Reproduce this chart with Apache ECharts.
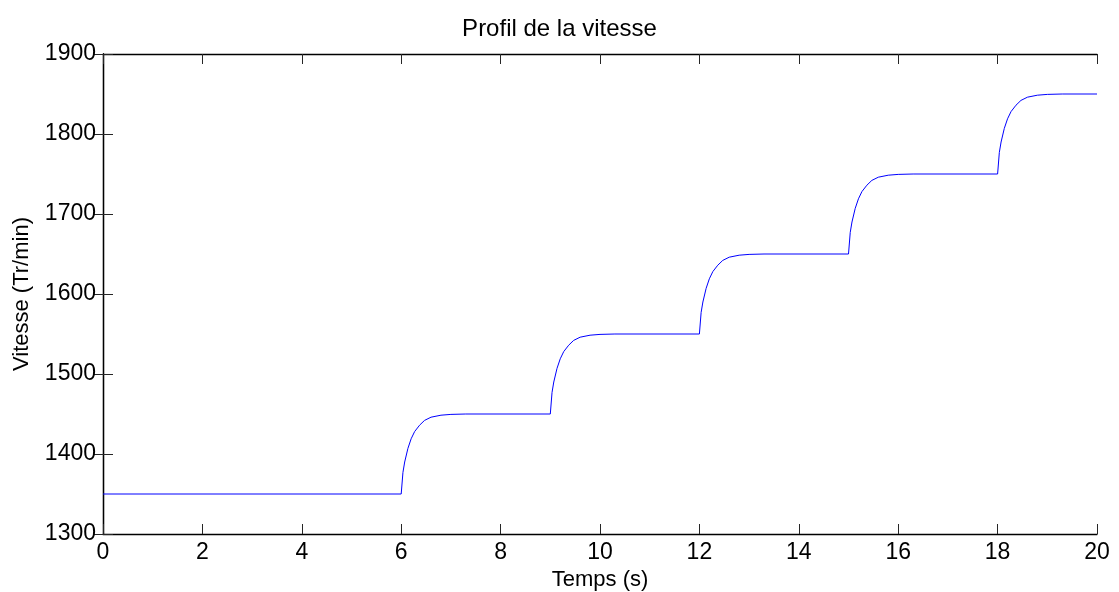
<!DOCTYPE html>
<html>
<head>
<meta charset="utf-8">
<title>Profil de la vitesse</title>
<script src="https://cdn.jsdelivr.net/npm/echarts@6/dist/echarts.min.js"></script>
<style>
  html, body { margin: 0; padding: 0; background: #fff; }
  #chart { width: 1119px; height: 592px; }
</style>
</head>
<body>
<div id="chart"></div>
<script>
// Speed profile: staircase of set-points, each step settling in about one second
const timeS = [
  0,
  6, 6.035, 6.07, 6.135, 6.2, 6.27, 6.37, 6.47, 6.6, 6.8, 7.0, 7.3,
  9, 9.035, 9.07, 9.135, 9.2, 9.27, 9.37, 9.47, 9.6, 9.8, 10.0, 10.3,
  12, 12.035, 12.07, 12.135, 12.2, 12.27, 12.37, 12.47, 12.6, 12.8, 13.0, 13.3,
  15, 15.035, 15.07, 15.135, 15.2, 15.27, 15.37, 15.47, 15.6, 15.8, 16.0, 16.3,
  18, 18.035, 18.07, 18.135, 18.2, 18.27, 18.37, 18.47, 18.6, 18.8, 19.0, 19.3,
  20
];
const speedRpm = [
  1350,
  1350, 1377, 1390, 1407, 1419, 1428, 1436, 1442, 1446, 1448.5, 1449.5, 1450,
  1450, 1477, 1490, 1507, 1519, 1528, 1536, 1542, 1546, 1548.5, 1549.5, 1550,
  1550, 1577, 1590, 1607, 1619, 1628, 1636, 1642, 1646, 1648.5, 1649.5, 1650,
  1650, 1677, 1690, 1707, 1719, 1728, 1736, 1742, 1746, 1748.5, 1749.5, 1750,
  1750, 1777, 1790, 1807, 1819, 1828, 1836, 1842, 1846, 1848.5, 1849.5, 1850,
  1850
];
const xTicks = [0, 2, 4, 6, 8, 10, 12, 14, 16, 18, 20];
const yTicks = [1300, 1400, 1500, 1600, 1700, 1800, 1900];

const FONT = '"Liberation Sans", Arial, sans-serif';
const chart = echarts.init(document.getElementById('chart'), null, { renderer: 'canvas' });

const tickStyle = { show: true, inside: true, length: 10, lineStyle: { color: '#262626', width: 1 } };
const lineStyle = { show: true, lineStyle: { color: '#000', width: 1.3 } };
const plain = v => String(v);

const xRange = { min: xTicks[0], max: xTicks[xTicks.length - 1], interval: xTicks[1] - xTicks[0] };
const yRange = { min: yTicks[0], max: yTicks[yTicks.length - 1], interval: yTicks[1] - yTicks[0] };

chart.setOption({
  animation: false,
  backgroundColor: '#fff',
  title: {
    text: 'Profil de la vitesse',
    left: 'center',
    top: 12,
    textStyle: { fontFamily: FONT, fontSize: 24, fontWeight: 'normal', color: '#000' }
  },
  grid: { left: 103, right: 22, top: 54, bottom: 58, containLabel: false, outerBoundsMode: 'none' },
  xAxis: [
    Object.assign({
      type: 'value',
      position: 'bottom',
      name: 'Temps (s)',
      nameLocation: 'middle',
      nameGap: 33,
      nameTextStyle: { fontFamily: FONT, fontSize: 22, color: '#000' },
      axisLine: lineStyle,
      axisTick: tickStyle,
      splitLine: { show: false },
      axisLabel: { fontFamily: FONT, fontSize: 23, color: '#000', margin: 7, formatter: plain }
    }, xRange),
    Object.assign({
      type: 'value',
      position: 'top',
      axisLine: lineStyle,
      axisTick: tickStyle,
      splitLine: { show: false },
      axisLabel: { show: false }
    }, xRange)
  ],
  yAxis: [
    Object.assign({
      type: 'value',
      position: 'left',
      name: 'Vitesse (Tr/min)',
      nameLocation: 'middle',
      nameGap: 70,
      nameTextStyle: { fontFamily: FONT, fontSize: 22, color: '#000' },
      axisLine: lineStyle,
      axisTick: tickStyle,
      splitLine: { show: false },
      axisLabel: { fontFamily: FONT, fontSize: 23, color: '#000', margin: 7, formatter: plain }
    }, yRange),
    Object.assign({
      type: 'value',
      position: 'right',
      axisLine: lineStyle,
      axisTick: tickStyle,
      splitLine: { show: false },
      axisLabel: { show: false }
    }, yRange)
  ],
  series: [{
    type: 'line',
    xAxisIndex: 0,
    yAxisIndex: 0,
    data: timeS.map((t, i) => [t, speedRpm[i]]),
    showSymbol: false,
    lineStyle: { color: '#0000ff', width: 1 },
    itemStyle: { color: '#0000ff' }
  }]
});
</script>
</body>
</html>
